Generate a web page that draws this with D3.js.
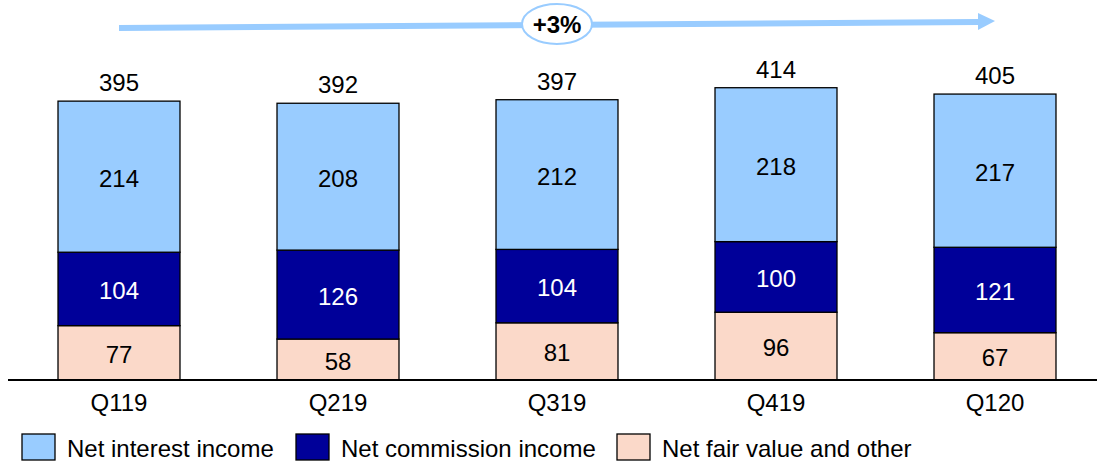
<!DOCTYPE html>
<html><head><meta charset="utf-8">
<script src="https://cdn.jsdelivr.net/npm/d3@7"></script>
<style>body{margin:0;background:#fff}svg{display:block;font-family:"Liberation Sans",Arial,sans-serif}</style>
</head><body><svg id="c" width="1097" height="464"></svg>
<script>
const categories = ["Q119","Q219","Q319","Q419","Q120"];
const netFairValue = [77,58,81,96,67];
const netCommission = [104,126,104,100,121];
const netInterest = [214,208,212,218,217];
const totals = [395,392,397,414,405];
const seriesNames = ["Net fair value and other","Net commission income","Net interest income"];
const growthLabel = "+3%";

const colors = {"Net interest income":"#99CCFF","Net commission income":"#000099","Net fair value and other":"#FBD9C9"};
const labelColors = {"Net interest income":"#000","Net commission income":"#fff","Net fair value and other":"#000"};
const FS = 24;

const svg = d3.select("#c");
const x = d3.scaleBand().domain(categories).range([9.5,1104.5]).paddingInner(0.443).paddingOuter(0.2215);
const y = d3.scaleLinear().domain([0,450]).range([380,380-0.706*450]);

const rows = categories.map((c,i)=>({cat:c,"Net fair value and other":netFairValue[i],"Net commission income":netCommission[i],"Net interest income":netInterest[i]}));
const stack = d3.stack().keys(seriesNames)(rows);

const g = svg.append("g");
stack.forEach(layer=>{
  const key = layer.key;
  g.selectAll(null).data(layer).join("rect")
    .attr("x",d=>x(d.data.cat)).attr("width",x.bandwidth())
    .attr("y",d=>y(d[1])).attr("height",d=>y(d[0])-y(d[1]))
    .attr("fill",colors[key]).attr("stroke","#000").attr("stroke-width",1.3);
  g.selectAll(null).data(layer).join("text")
    .attr("x",d=>x(d.data.cat)+x.bandwidth()/2)
    .attr("y",d=>(y(d[0])+y(d[1]))/2+10)
    .attr("text-anchor","middle").attr("font-size",FS).attr("fill",labelColors[key])
    .text(d=>d.data[key]);
});

// totals
g.selectAll(null).data(categories).join("text")
  .attr("x",d=>x(d)+x.bandwidth()/2).attr("y",(d,i)=>y(totals[i])-10)
  .attr("text-anchor","middle").attr("font-size",FS).attr("fill","#000")
  .text((d,i)=>totals[i]);

// baseline
svg.append("line").attr("x1",8).attr("x2",1097).attr("y1",y(0)).attr("y2",y(0)).attr("stroke","#000").attr("stroke-width",2);

// category labels
const xAxis = svg.append("g").attr("transform",`translate(0,${y(0)})`)
  .call(d3.axisBottom(x).tickSize(0).tickPadding(0));
xAxis.select(".domain").remove();
xAxis.selectAll("text").attr("font-size",FS).attr("font-family","Liberation Sans, Arial, sans-serif").attr("fill","#000").attr("dy",null).attr("y",31);

// growth arrow
const x0 = x(categories[0])+x.bandwidth()/2, x1 = x(categories[4])+x.bandwidth()/2;
svg.append("line").attr("x1",x0).attr("y1",28).attr("x2",x1-17).attr("y2",22).attr("stroke","#99CCFF").attr("stroke-width",6);
svg.append("polygon").attr("points",`${x1-17},13 ${x1},21 ${x1-17},30`).attr("fill","#99CCFF");
const cx = x(categories[2])+x.bandwidth()/2;
svg.append("ellipse").attr("cx",cx).attr("cy",24).attr("rx",35).attr("ry",20).attr("fill","#fff").attr("stroke","#99CCFF").attr("stroke-width",2);
svg.append("text").attr("x",cx).attr("y",32.5).attr("text-anchor","middle").attr("font-size",FS).attr("font-weight","bold").text(growthLabel);

// legend
const legendItems = [["Net interest income",22],["Net commission income",296],["Net fair value and other",617]];
legendItems.forEach(([name,lx])=>{
  svg.append("rect").attr("x",lx).attr("y",434).attr("width",33).attr("height",26).attr("fill",colors[name]).attr("stroke","#000").attr("stroke-width",1.3);
  svg.append("text").attr("x",lx+45).attr("y",457).attr("font-size",FS).attr("fill","#000").text(name);
});
</script></body></html>
